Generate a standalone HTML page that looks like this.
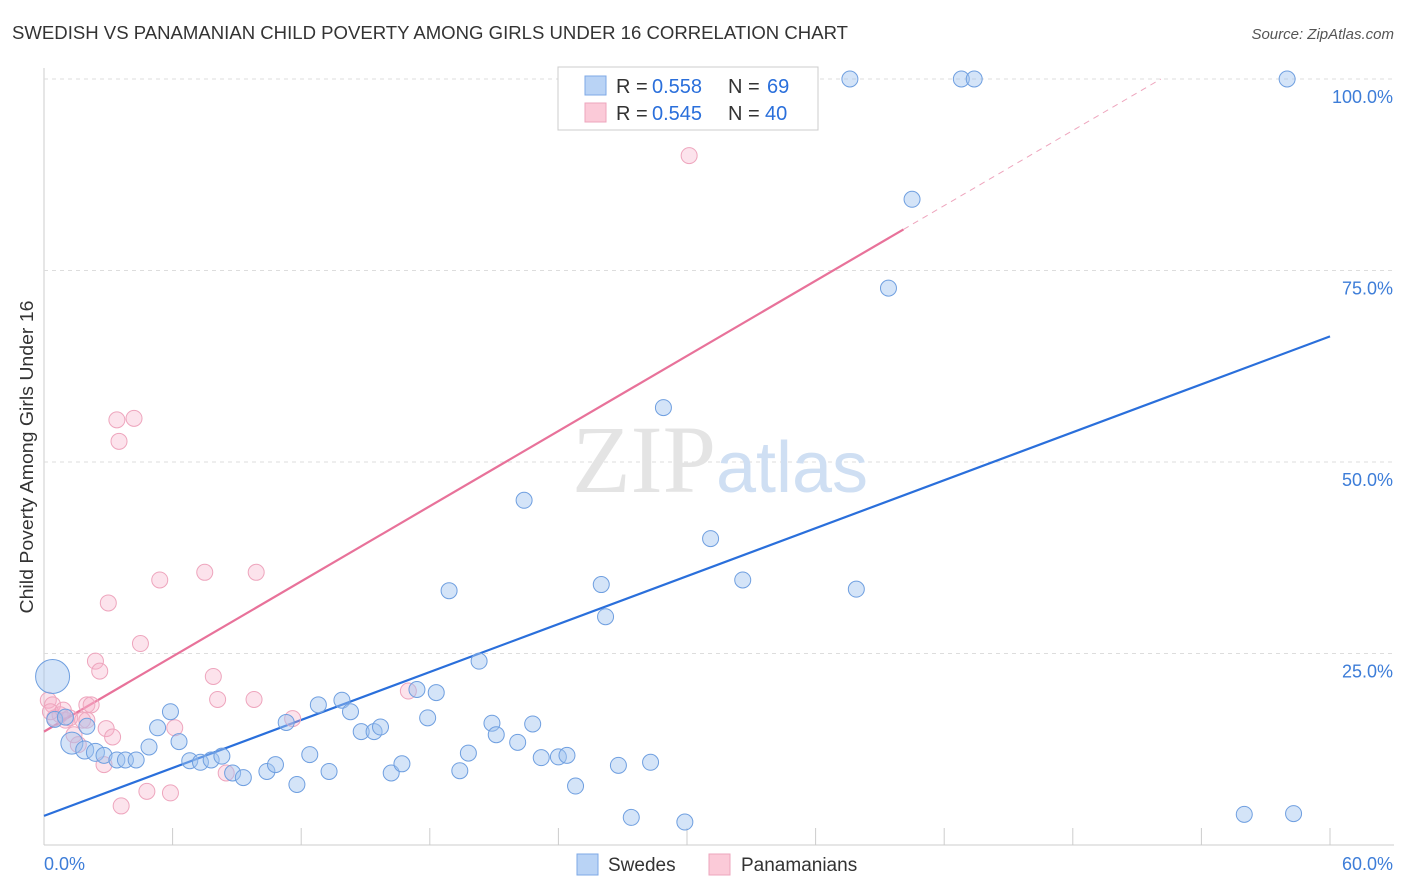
<!DOCTYPE html>
<html><head><meta charset="utf-8">
<style>
body{margin:0;background:#fff;font-family:"Liberation Sans",sans-serif;}
#wrap{position:relative;width:1406px;height:892px;overflow:hidden;}
</style></head><body>
<div id="wrap">
<svg id="chart" width="1406" height="892">
<text x="12" y="39" font-size="18.5" fill="#333" textLength="836" lengthAdjust="spacingAndGlyphs">SWEDISH VS PANAMANIAN CHILD POVERTY AMONG GIRLS UNDER 16 CORRELATION CHART</text>
<text x="1394" y="39" font-size="15" fill="#555" text-anchor="end" font-style="italic">Source: ZipAtlas.com</text>
<text x="33" y="457" font-size="18" fill="#333" text-anchor="middle" textLength="313" lengthAdjust="spacingAndGlyphs" transform="rotate(-90 33 457)">Child Poverty Among Girls Under 16</text>
<g id="grid"></g>
<text x="720" y="492" font-size="96" fill="#e4e4e4" text-anchor="middle" font-family="Liberation Serif,serif">ZIP<tspan fill="#cfdff3" font-family="Liberation Sans,sans-serif" font-size="72">atlas</tspan></text>
<g id="lines"></g>
<g id="pts"></g>
<g>
<rect x="558" y="67" width="260" height="63" fill="#fff" stroke="#ccc"/>
<rect x="585" y="76" width="21" height="19" fill="#b9d3f5" stroke="#7ea8e6"/>
<rect x="585" y="103" width="21" height="19" fill="#fbcad8" stroke="#eea5bd"/>
<text x="616" y="93" font-size="20" fill="#333">R =</text><text x="652" y="93" font-size="20" fill="#2a6fdb">0.558</text>
<text x="728" y="93" font-size="20" fill="#333">N =</text><text x="767" y="93" font-size="20" fill="#2a6fdb">69</text>
<text x="616" y="120" font-size="20" fill="#333">R =</text><text x="652" y="120" font-size="20" fill="#2a6fdb">0.545</text>
<text x="728" y="120" font-size="20" fill="#333">N =</text><text x="765" y="120" font-size="20" fill="#2a6fdb">40</text>
</g>
<g>
<rect x="577" y="854" width="21" height="21" fill="#b9d3f5" stroke="#7ea8e6"/>
<text x="608" y="871" font-size="19" fill="#333">Swedes</text>
<rect x="709" y="854" width="21" height="21" fill="#fbcad8" stroke="#eea5bd"/>
<text x="741" y="871" font-size="19" fill="#333">Panamanians</text>
</g>
</svg>
</div>
<script>
const yTicks=[25,50,75,100];
const yTickLabels=["25.0%","50.0%","75.0%","100.0%"];
const xTicks=[0,6,12,18,24,30,36,42,48,54,60];
const xTickLabels=["0.0%","60.0%"];
const swedesX=[0.4,1.3,1.9,2.4,2.8,3.4,3.8,4.3,4.9,5.3,5.9,6.3,6.8,7.3,7.8,8.3,8.8,9.3,10.4,10.8,11.3,11.8,12.4,12.8,13.3,13.9,14.3,14.8,15.4,15.7,16.2,16.7,17.4,17.9,18.3,18.9,19.4,19.8,20.3,20.9,21.1,22.1,22.4,22.8,23.2,24.0,24.4,24.8,26.0,26.2,26.8,27.4,28.3,28.9,29.9,31.1,32.6,37.9,37.6,39.4,40.5,42.8,43.4,56.0,58.0,58.3,0.5,1.0,2.0,27.9];
const swedesY=[22,13.3,12.4,12.1,11.7,11.1,11.1,11.1,12.8,15.3,17.4,13.5,11.0,10.8,11.1,11.6,9.4,8.8,9.6,10.5,16.0,7.9,11.8,18.3,9.6,18.9,17.4,14.8,14.8,15.4,9.4,10.6,20.3,16.6,19.9,33.2,9.7,12.0,24.0,15.9,14.4,13.4,45.0,15.8,11.4,11.5,11.7,7.7,34.0,29.8,10.4,3.6,10.8,57.1,3.0,40.0,34.6,33.4,100,72.7,84.3,100,100,4.0,100,4.1,16.4,16.7,15.5,100];
const swedesR=[17,11,9,9,8,8,8,8,8,8,8,8,8,8,8,8,8,8,8,8,8,8,8,8,8,8,8,8,8,8,8,8,8,8,8,8,8,8,8,8,8,8,8,8,8,8,8,8,8,8,8,8,8,8,8,8,8,8,8,8,8,8,8,8,8,8,8,8,8,8];
const panX=[0.2,0.4,0.5,0.75,1.0,1.2,1.4,1.8,2.0,2.2,2.4,2.6,2.8,2.9,3.0,3.2,3.4,3.5,3.6,4.2,4.5,4.8,5.4,5.9,6.1,7.5,7.9,8.1,8.5,9.8,9.9,11.6,17.0,30.1,0.3,1.6,2.0,0.9];
const panY=[18.9,18.3,16.6,17.0,16.3,16.6,14.4,16.3,18.3,18.3,24.0,22.7,10.5,15.2,31.6,14.1,55.5,52.7,5.1,55.7,26.3,7.0,34.6,6.8,15.3,35.6,22.0,19.0,9.4,19.0,35.6,16.5,20.1,90,17.4,13.1,16.3,17.6];
const blueLine=[3.8,66.4];
const pinkLine=[14.8,1.635];
const NS="http://www.w3.org/2000/svg";
const X=v=>44+v*(1330-44)/60;
const Y=v=>845-v*(845-79)/100;
function mk(t,a,p){const e=document.createElementNS(NS,t);for(const k in a)e.setAttribute(k,a[k]);p.appendChild(e);return e;}
const grid=document.getElementById('grid');
mk('line',{x1:44,y1:68,x2:44,y2:845,stroke:'#ccc'},grid);
mk('line',{x1:44,y1:845,x2:1394,y2:845,stroke:'#ccc'},grid);
yTicks.forEach((v,i)=>{
 const l=mk('line',{x1:44,y1:Y(v),x2:1394,y2:Y(v),stroke:'#ddd','stroke-dasharray':'4,4'},grid);
 
 
 const t=mk('text',{x:1393,y:Y(v)+24,'font-size':18,fill:'#3d7dd8','text-anchor':'end'},grid);
 t.textContent=yTickLabels[i];
 
 
});
xTicks.forEach(v=>{
 const l=mk('line',{x1:X(v),y1:828,x2:X(v),y2:845,stroke:'#ccc'},grid);
 
 
});
let t0=mk('text',{x:44,y:870,'font-size':18,fill:'#3d7dd8'},grid);t0.textContent=xTickLabels[0];


let t1=mk('text',{x:1393,y:870,'font-size':18,fill:'#3d7dd8','text-anchor':'end'},grid);t1.textContent=xTickLabels[1];


const pts=document.getElementById('pts');
panX.forEach((x,i)=>{
 const c=mk('circle',{cx:X(x),cy:Y(panY[i]),r:8,fill:'rgba(247,175,200,0.35)',stroke:'#eea5bd','stroke-width':1},pts);
 
 
});
swedesX.forEach((x,i)=>{
 const c=mk('circle',{cx:X(x),cy:Y(swedesY[i]),r:swedesR[i],fill:'rgba(160,195,240,0.45)',stroke:'#6f9fe0','stroke-width':1},pts);
 
 
});
const lines=document.getElementById('lines');
const bl=mk('line',{x1:X(0),y1:Y(blueLine[0]),x2:X(60),y2:Y(blueLine[1]),stroke:'#2a6fdb','stroke-width':2.2},lines);


const pEnd=40.1, pDash=(100-pinkLine[0])/pinkLine[1];
const pl=mk('line',{x1:X(0),y1:Y(pinkLine[0]),x2:X(pEnd),y2:Y(pinkLine[0]+pinkLine[1]*pEnd),stroke:'#e8729a','stroke-width':2.2},lines);


const pd=mk('line',{x1:X(pEnd),y1:Y(pinkLine[0]+pinkLine[1]*pEnd),x2:X(pDash),y2:Y(100),stroke:'#eea5bd','stroke-width':1,'stroke-dasharray':'6,5'},lines);


</script>
</body></html>
